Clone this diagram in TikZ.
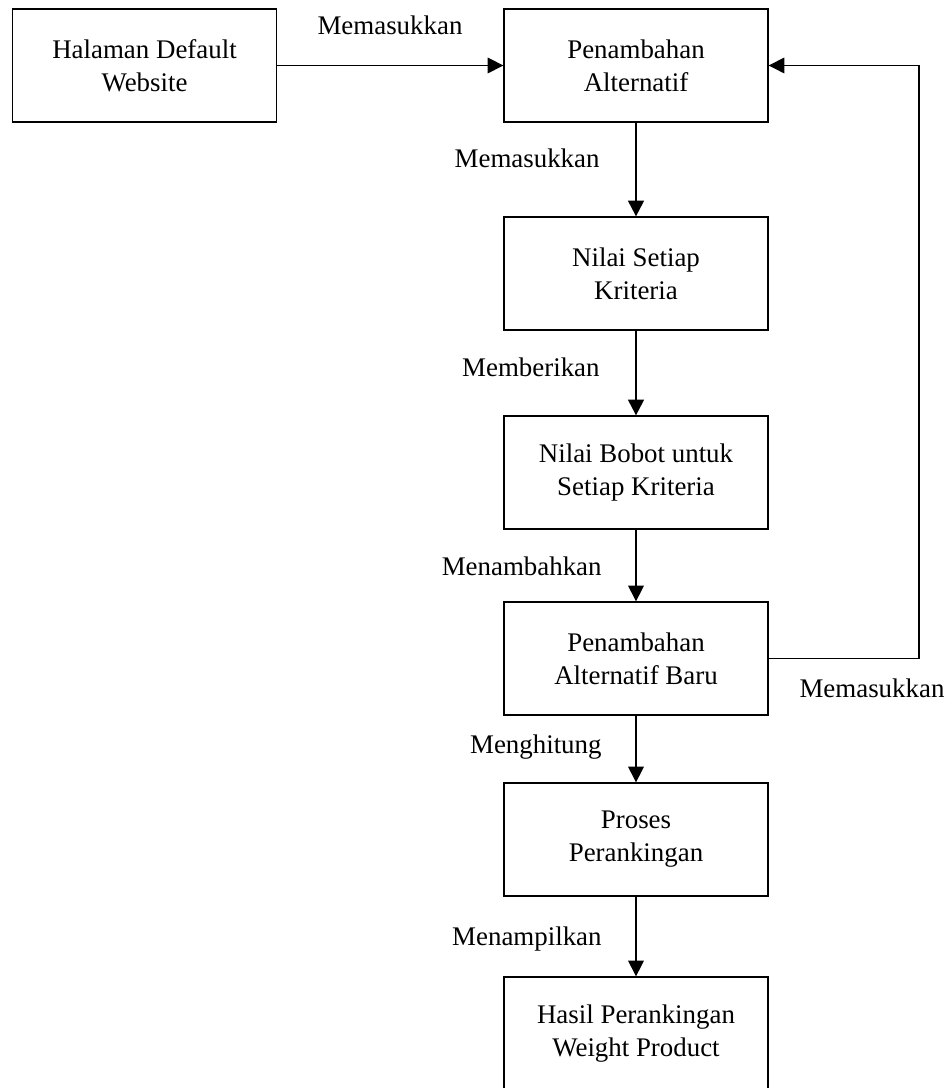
\documentclass[tikz,border=0pt]{standalone}
\usepackage{fontspec}
\setmainfont{Liberation Serif}
\usetikzlibrary{arrows.meta}

\begin{document}
\begin{tikzpicture}[x=0.4463pt,y=-0.4463pt,>={Triangle[length=7pt,width=7pt]},
    kotak/.style={draw,line width=0.6pt,minimum width=117.8pt,minimum height=50.4pt,
      inner sep=0pt,align=center,font=\fontsize{12}{14.7}\selectfont},
    ket/.style={anchor=base east,inner sep=0pt,font=\fontsize{12}{14.7}\selectfont},
    alur/.style={->,line width=0.5pt},
    alurtebal/.style={->,line width=1pt}]

    \useasboundingbox (0,0) rectangle (952,1088);

    % kotak-kotak proses
    \node[kotak] (halaman) at (144.5,65.5) {Halaman Default\\Website};
    \node[kotak] (tambah) at (636,65.5) {Penambahan\\Alternatif};
    \node[kotak] (nilai) at (636,273.5) {Nilai Setiap\\Kriteria};
    \node[kotak] (bobot) at (636,472.5) {Nilai Bobot untuk\\Setiap Kriteria};
    \node[kotak] (baru) at (636,658.5) {Penambahan\\Alternatif Baru};
    \node[kotak] (ranking) at (636,839.5) {Proses\\Perankingan};
    \node[kotak] (hasil) at (636,1033.5) {Hasil Perankingan\\Weight Product};

    % keterangan alur
    \node[ket,anchor=base] (k1) at (390,35) {Memasukkan};
    \node[ket] (k2) at (600,168) {Memasukkan};
    \node[ket] (k3) at (600,377) {Memberikan};
    \node[ket] (k4) at (602,575) {Menambahkan};
    \node[ket] (k5) at (602,753) {Menghitung};
    \node[ket] (k6) at (602,945) {Menampilkan};
    \node[ket,anchor=base] (k7) at (872,697) {Memasukkan};

    \coordinate (balik) at (919,658.5);

    \draw[alur] (halaman) -- (tambah);
    \draw[alurtebal] (tambah) -- (nilai);
    \draw[alurtebal] (nilai) -- (bobot);
    \draw[alur] (bobot) -- (baru);
    \draw[alur] (baru) -- (ranking);
    \draw[alur] (ranking) -- (hasil);
    \draw[alur] (baru.east) -- (balik) |- (tambah.east);

\end{tikzpicture}
\end{document}
